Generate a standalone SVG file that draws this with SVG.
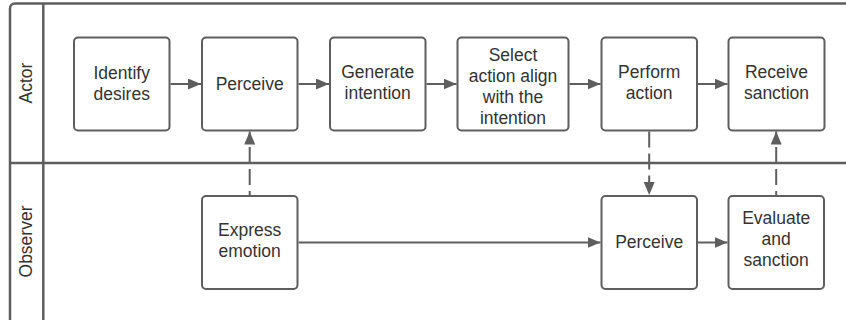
<svg xmlns="http://www.w3.org/2000/svg" width="846" height="320" viewBox="0 0 846 320">
<style>
.frame{fill:none;stroke:#5e5e5e;stroke-width:2.5}
.node rect{fill:#ffffff;stroke:#5e5e5e;stroke-width:2}
text{font-family:"Liberation Sans",Arial,sans-serif;font-size:17.5px;fill:#333333;text-anchor:middle}
.conn line{stroke:#5e5e5e;stroke-width:2;fill:none;marker-end:url(#arrow)}
.conn line.dash{stroke-dasharray:16 6}
</style>
<defs>
<marker id="arrow" markerUnits="userSpaceOnUse" markerWidth="14" markerHeight="12" refX="13" refY="5.5" orient="auto">
<path d="M0,0 L13,5.5 L0,11 z" fill="#5e5e5e"/>
</marker>
</defs>
<rect width="846" height="320" fill="#ffffff"/>
<g id="pool">
<rect class="frame" x="10" y="3.5" width="860" height="340" rx="5"/>
<line class="frame" x1="43.3" y1="3.5" x2="43.3" y2="330"/>
<line class="frame" x1="10" y1="163" x2="860" y2="163"/>
<text transform="translate(31.5,83) rotate(-90)">Actor</text>
<text transform="translate(31.5,241.5) rotate(-90)">Observer</text>
</g>
<g id="identify" class="node"><rect x="74" y="37.5" width="95.5" height="93" rx="4"/><text x="121.7" y="79">Identify</text><text x="121.7" y="99.5">desires</text></g>
<g id="perceive1" class="node"><rect x="202" y="37.5" width="95.5" height="93" rx="4"/><text x="249.7" y="90">Perceive</text></g>
<g id="generate" class="node"><rect x="330" y="37.5" width="95.5" height="93" rx="4"/><text x="377.7" y="78">Generate</text><text x="377.7" y="98.5">intention</text></g>
<g id="select" class="node"><rect x="457.5" y="37.5" width="111" height="93" rx="4"/><text x="513" y="61">Select</text><text x="513" y="82">action align</text><text x="513" y="103">with the</text><text x="513" y="124">intention</text></g>
<g id="perform" class="node"><rect x="601.5" y="37.5" width="95.5" height="93" rx="4"/><text x="649.2" y="78">Perform</text><text x="649.2" y="98.5">action</text></g>
<g id="receive" class="node"><rect x="728.5" y="37.5" width="96" height="93" rx="4"/><text x="776.5" y="78">Receive</text><text x="776.5" y="98.5">sanction</text></g>
<g id="express" class="node"><rect x="202" y="196" width="95.5" height="93" rx="4"/><text x="249.7" y="236">Express</text><text x="249.7" y="256.5">emotion</text></g>
<g id="perceive2" class="node"><rect x="601.5" y="196" width="95.5" height="93" rx="4"/><text x="649.2" y="248">Perceive</text></g>
<g id="evaluate" class="node"><rect x="728.5" y="196" width="95.5" height="93" rx="4"/><text x="776.2" y="224">Evaluate</text><text x="776.2" y="245">and</text><text x="776.2" y="266">sanction</text></g>
<g id="connectors" class="conn">
<line x1="170.5" y1="84" x2="201" y2="84"/>
<line x1="298.5" y1="84" x2="329" y2="84"/>
<line x1="426.5" y1="84" x2="456.5" y2="84"/>
<line x1="569.5" y1="84" x2="600.5" y2="84"/>
<line x1="698" y1="84" x2="727.5" y2="84"/>
<line x1="298.5" y1="242.5" x2="600.5" y2="242.5"/>
<line x1="698" y1="242.5" x2="727.5" y2="242.5"/>
<line class="dash" x1="249.7" y1="195" x2="249.7" y2="131.5" style="stroke-dashoffset:12"/>
<line class="dash" x1="649.2" y1="131.5" x2="649.2" y2="195"/>
<line class="dash" x1="776.2" y1="195" x2="776.2" y2="131.5" style="stroke-dashoffset:12"/>
</g>
</svg>
